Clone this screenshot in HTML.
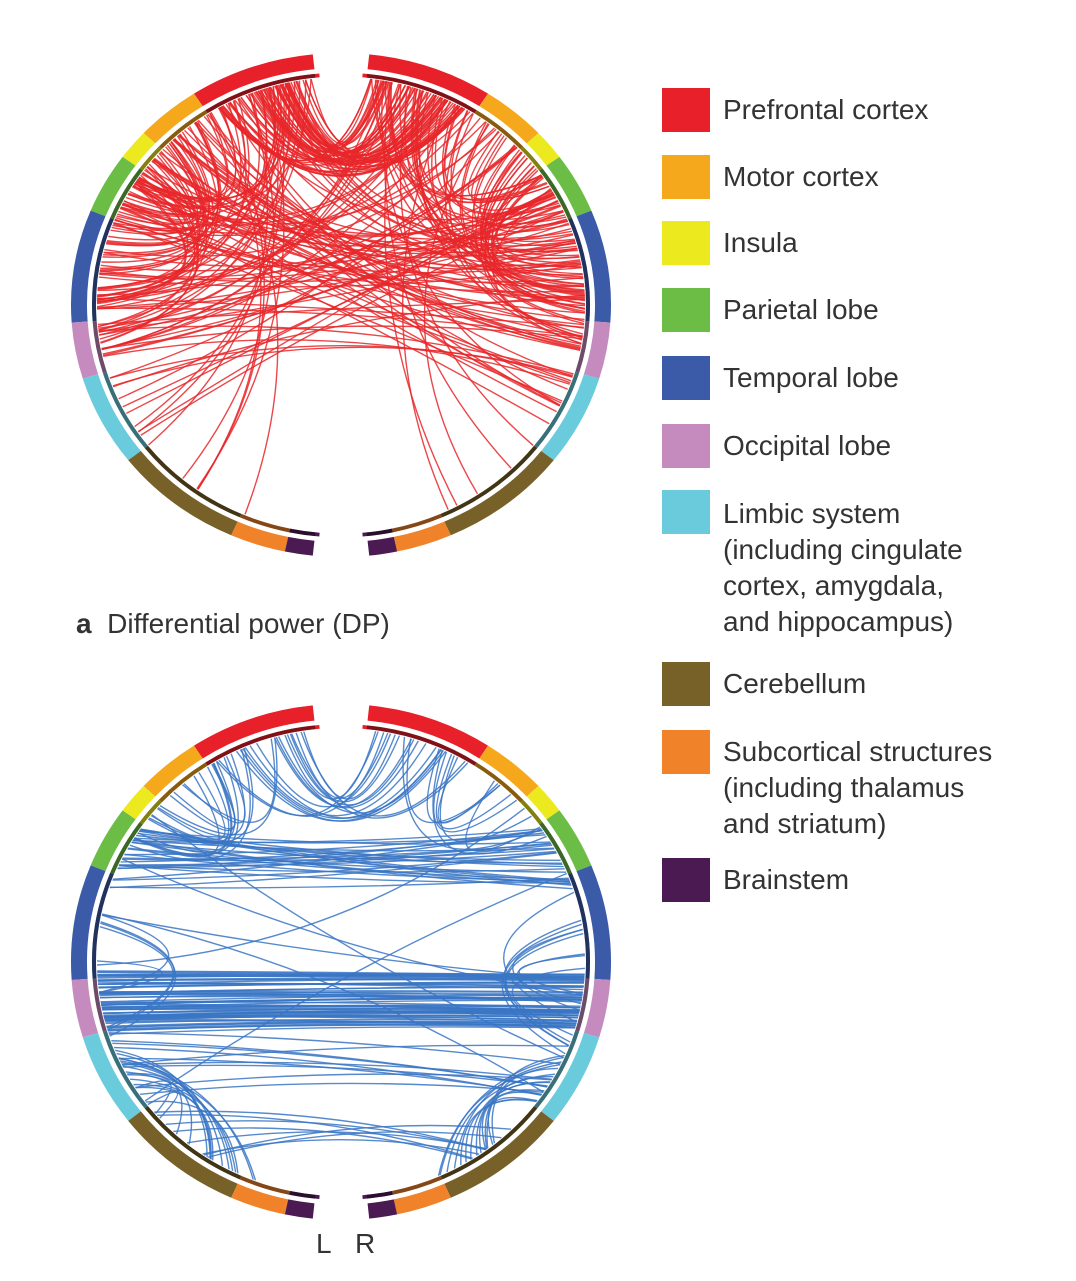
<!DOCTYPE html>
<html><head><meta charset="utf-8"><style>
body{margin:0;background:#fff;width:1076px;height:1281px;overflow:hidden;font-family:"Liberation Sans",Arial,sans-serif;color:#333}
.sw{position:absolute;left:662px;width:48px;height:44px}
.t{position:absolute;left:723px;font-size:28px;line-height:36px;color:#333}
</style></head><body>
<svg id="s" width="1076" height="1281" style="position:absolute;left:0;top:0"></svg>
<div class="sw" style="top:88px;background:#e8202a"></div><div class="t" style="top:92px">Prefrontal cortex</div>
<div class="sw" style="top:155px;background:#f6a81c"></div><div class="t" style="top:159px">Motor cortex</div>
<div class="sw" style="top:221px;background:#ecea1f"></div><div class="t" style="top:225px">Insula</div>
<div class="sw" style="top:288px;background:#6cbd45"></div><div class="t" style="top:292px">Parietal lobe</div>
<div class="sw" style="top:356px;background:#3b5ba9"></div><div class="t" style="top:360px">Temporal lobe</div>
<div class="sw" style="top:424px;background:#c58bbf"></div><div class="t" style="top:428px">Occipital lobe</div>
<div class="sw" style="top:490px;background:#69cbdb"></div><div class="t" style="top:496px">Limbic system<br>(including cingulate<br>cortex, amygdala,<br>and hippocampus)</div>
<div class="sw" style="top:662px;background:#776129"></div><div class="t" style="top:666px">Cerebellum</div>
<div class="sw" style="top:730px;background:#f0822a"></div><div class="t" style="top:734px">Subcortical structures<br>(including thalamus<br>and striatum)</div>
<div class="sw" style="top:858px;background:#4b1a52"></div><div class="t" style="top:862px">Brainstem</div>
<div style="position:absolute;left:76px;top:608px;font-size:28px"><b>a</b>&nbsp; Differential power (DP)</div>
<div style="position:absolute;left:316px;top:1228px;font-size:28px">L</div>
<div style="position:absolute;left:355px;top:1228px;font-size:28px">R</div>
<script>
var NS="http://www.w3.org/2000/svg",S=document.getElementById("s");
var seed=7;function rnd(){seed=(seed*16807)%2147483647;return (seed-1)/2147483646;}
var segs=[[6,33,"#e8202a"],[33,47,"#f6a81c"],[47,54,"#ecea1f"],[54,68,"#6cbd45"],[68,94,"#3b5ba9"],[94,107,"#c58bbf"],[107,128,"#69cbdb"],[128,156,"#776129"],[156,168,"#f0822a"],[168,174,"#4b1a52"]];
function P(a,r){var t=a*Math.PI/180;return [r*Math.sin(t),-r*Math.cos(t)];}
function arc(a1,a2,r){var p=P(a1,r),q=P(a2,r);var sw=a2>a1?1:0;return "M"+p[0]+" "+p[1]+"A"+r+" "+r+" 0 0 "+sw+" "+q[0]+" "+q[1];}
function el(tag,at,par){var e=document.createElementNS(NS,tag);for(var k in at)e.setAttribute(k,at[k]);par.appendChild(e);return e;}
function diagram(cx,cy,sy,col,chords){
 var g=el("g",{transform:"translate("+cx+","+cy+") scale(1,"+sy+")"},S);
 var cg=el("g",{fill:"none",stroke:col,"stroke-width":1.4,"stroke-opacity":0.85},g);
 chords.forEach(function(c){var R=244,p=P(c[0],R),q=P(c[1],R);
  var d=Math.hypot(p[0]-q[0],p[1]-q[1])/(2*R);var k=c[2]!=null?c[2]:(0.1+0.4*(1-d));
  var m=[(p[0]+q[0])/2*k,(p[1]+q[1])/2*k];
  el("path",{d:"M"+p[0]+" "+p[1]+"Q"+m[0]+" "+m[1]+" "+q[0]+" "+q[1],"vector-effect":"non-scaling-stroke"},cg);});
 [1,-1].forEach(function(s){segs.forEach(function(sg){
  el("path",{d:arc(s*sg[0],s*sg[1],262),fill:"none",stroke:sg[2],"stroke-width":16},g);
  el("path",{d:arc(s*(sg[0]-(sg[0]==6?1:0)),s*(sg[1]+(sg[1]==174?1:0)),247),fill:"none",stroke:sg[2],"stroke-width":4},g);
  el("path",{d:arc(s*sg[0],s*sg[1],247),fill:"none",stroke:"#000","stroke-opacity":0.45,"stroke-width":4},g);
 });});
}
function ra(a,b){return a+(b-a)*rnd();}
function sd(){return rnd()<0.5?1:-1;}
var red=[];
for(var i=0;i<60;i++){red.push([ra(7,32),-ra(7,32)]);}
for(i=0;i<110;i++){var s=sd();red.push([s*ra(7,60),s*ra(55,100)]);}
for(i=0;i<80;i++){var a=sd()*ra(8,70);red.push([a,-Math.sign(a)*ra(60,125)]);}
for(i=0;i<14;i++){var a=sd()*ra(10,40);red.push([a,Math.sign(a)*ra(110,160)]);}
for(i=0;i<20;i++){var a=sd()*ra(60,110);red.push([a,-Math.sign(a)*ra(60,115)]);}
diagram(341,305,252/270,"#e8272a",red);
var bl=[];
for(i=0;i<18;i++){bl.push([ra(8,32),-ra(8,32)]);}
for(i=0;i<24;i++){var a=sd()*ra(14,40);bl.push([a,Math.sign(a)*ra(40,62)]);}
for(i=0;i<30;i++){bl.push([ra(55,72),-ra(55,72),0.9]);}
for(i=0;i<70;i++){var a=ra(93,107);bl.push([a,-(a+ra(-2,2)),0.9]);}
for(i=0;i<10;i++){bl.push([ra(107,125),-ra(107,125),0.85]);}
for(i=0;i<14;i++){var s=sd();bl.push([s*ra(72,92),s*ra(95,115)]);}
for(i=0;i<30;i++){var s=sd();bl.push([s*ra(112,128),s*ra(130,160),0.75]);}
for(i=0;i<8;i++){bl.push([ra(128,150),-ra(128,150),0.85]);}
for(i=0;i<6;i++){var a=sd()*ra(40,80);bl.push([a,-Math.sign(a)*ra(85,130)]);}
diagram(341,962,258/270,"#3a76c4",bl);
</script>
</body></html>
